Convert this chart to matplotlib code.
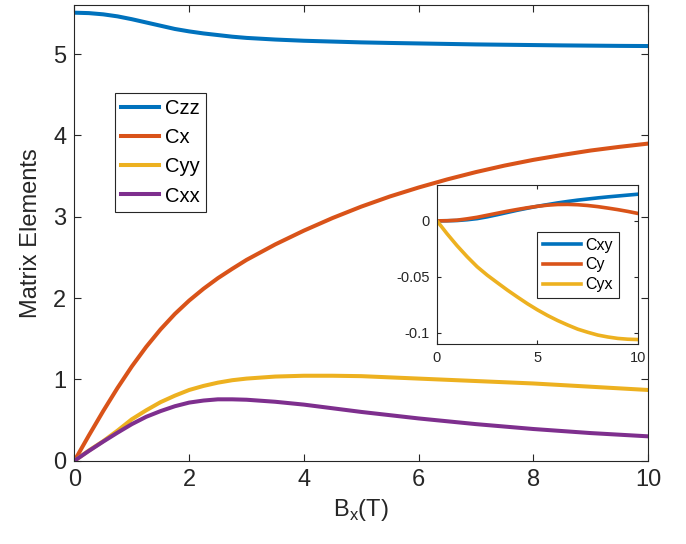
import matplotlib
matplotlib.use("Agg")
import matplotlib.pyplot as plt

plt.rcParams['font.family'] = ['Liberation Sans', 'DejaVu Sans']

# field values (T), main panel -- denser where the curves bend
bx = [0, 0.25, 0.5, 0.75, 1, 1.25, 1.5, 1.75, 2, 2.25, 2.5, 2.75, 3, 3.5, 4, 4.5, 5,
      5.5, 6, 6.5, 7, 7.5, 8, 8.5, 9, 9.5, 10]

czz = [5.51, 5.505, 5.49, 5.465, 5.43, 5.39, 5.35, 5.31, 5.28, 5.255, 5.235, 5.215, 5.20,
       5.18, 5.165, 5.155, 5.145, 5.138, 5.132, 5.126, 5.12, 5.116, 5.112, 5.108, 5.105,
       5.102, 5.10]
cx = [0, 0.31, 0.61, 0.895, 1.16, 1.40, 1.615, 1.805, 1.97, 2.115, 2.245, 2.36, 2.47, 2.66,
      2.83, 2.985, 3.125, 3.25, 3.36, 3.46, 3.55, 3.63, 3.70, 3.76, 3.815, 3.86, 3.90]
cyy = [0, 0.125, 0.24, 0.37, 0.51, 0.62, 0.72, 0.80, 0.87, 0.92, 0.96, 0.99, 1.01, 1.035,
       1.045, 1.045, 1.04, 1.025, 1.01, 0.995, 0.98, 0.965, 0.95, 0.93, 0.91, 0.89, 0.87]
cxx = [0, 0.12, 0.235, 0.345, 0.45, 0.54, 0.61, 0.67, 0.715, 0.74, 0.755, 0.755, 0.75,
       0.725, 0.69, 0.645, 0.60, 0.56, 0.52, 0.485, 0.45, 0.42, 0.39, 0.365, 0.34, 0.32, 0.30]

# inset
bx_in = [0, 0.5, 1, 1.5, 2, 2.5, 3, 3.5, 4, 4.5, 5, 5.5, 6, 6.5, 7, 7.5, 8, 8.5, 9, 9.5, 10]
cxy = [0, 0.0001, 0.0003, 0.0010, 0.0020, 0.0036, 0.0055, 0.0075, 0.0095, 0.0113, 0.0130,
       0.0145, 0.0160, 0.0173, 0.0185, 0.0195, 0.0205, 0.0214, 0.0222, 0.0230, 0.0238]
cy = [0, 0.0001, 0.0006, 0.0018, 0.0032, 0.0050, 0.0068, 0.0086, 0.0102, 0.0117, 0.0130,
      0.0140, 0.0146, 0.0147, 0.0144, 0.0137, 0.0127, 0.0114, 0.0100, 0.0084, 0.0066]
cyx = [0, -0.0115, -0.0222, -0.032, -0.041, -0.0485, -0.0552, -0.0618, -0.068, -0.074,
       -0.0795, -0.0845, -0.089, -0.093, -0.0967, -0.0995, -0.102, -0.1037, -0.105, -0.1057,
       -0.106]

blue, orange, yellow, purple = '#0072BD', '#D95319', '#EDB120', '#7E2F8E'
dark = '#262626'

fig = plt.figure(figsize=(6.86, 5.44), dpi=100)
ax = fig.add_axes([0.1086, 0.1531, 0.836, 0.837])
ax.plot(bx, czz, color=blue, lw=2.9, label='Czz')
ax.plot(bx, cx, color=orange, lw=2.9, label='Cx')
ax.plot(bx, cyy, color=yellow, lw=2.9, label='Cyy')
ax.plot(bx, cxx, color=purple, lw=2.9, label='Cxx')
ax.set_xlim(0, 10)
ax.set_ylim(0, 5.6)
ax.set_xticks([0, 2, 4, 6, 8, 10])
ax.set_yticks([0, 1, 2, 3, 4, 5])
ax.tick_params(direction='in', length=5, width=0.8, top=True, right=True,
               labelsize=17, colors=dark, pad=6)
for s in ax.spines.values():
    s.set_color(dark)
    s.set_linewidth(0.8)
ax.set_xlabel('B$_\\mathregular{x}$(T)', fontsize=17, color=dark, labelpad=4)
ax.set_ylabel('Matrix Elements', fontsize=17, color=dark, labelpad=8)
leg = ax.legend(loc='upper left', bbox_to_anchor=(0.07, 0.807), fontsize=14.5,
                handlelength=1.9, handletextpad=0.3, labelspacing=0.5,
                borderpad=0.3, borderaxespad=0, fancybox=False, framealpha=1)
leg.get_frame().set_edgecolor(dark)
leg.get_frame().set_linewidth(0.8)

ins = fig.add_axes([0.637, 0.3676, 0.293, 0.2923])
ins.plot(bx_in, cxy, color=blue, lw=2.6, label='Cxy')
ins.plot(bx_in, cy, color=orange, lw=2.6, label='Cy')
ins.plot(bx_in, cyx, color=yellow, lw=2.6, label='Cyx')
ins.set_xlim(0, 10)
ins.set_ylim(-0.11, 0.032)
ins.set_xticks([0, 5, 10])
ins.set_yticks([-0.1, -0.05, 0])
ins.set_yticklabels(['-0.1', '-0.05', '0'])
ins.tick_params(direction='in', length=3, width=0.8, top=True, right=True,
                labelsize=10.5, colors=dark, pad=5)
for s in ins.spines.values():
    s.set_color(dark)
    s.set_linewidth(0.8)
leg2 = ins.legend(loc='upper left', bbox_to_anchor=(0.4975, 0.704), fontsize=11.5,
                  handlelength=2.4, handletextpad=0.3, labelspacing=0.3,
                  borderpad=0.35, borderaxespad=0, fancybox=False, framealpha=1)
leg2.get_frame().set_edgecolor(dark)
leg2.get_frame().set_linewidth(0.8)

fig.savefig('out.png', dpi=100)
